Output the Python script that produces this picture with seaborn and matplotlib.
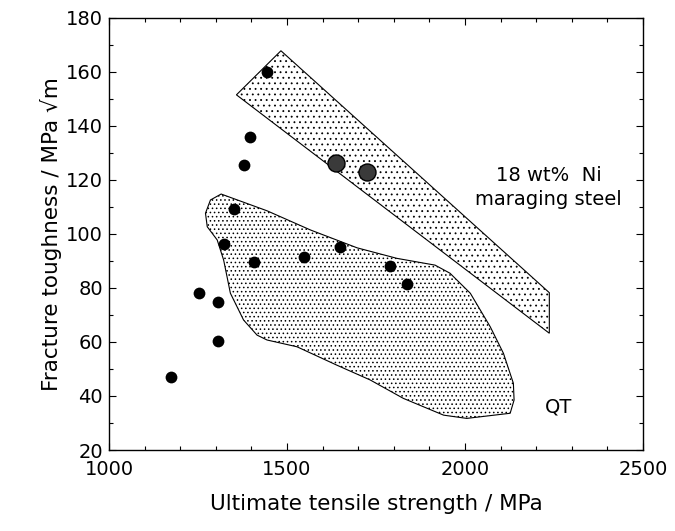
import matplotlib
matplotlib.use("Agg")
import matplotlib.pyplot as plt
import seaborn as sns
import pandas as pd
from matplotlib.patches import Polygon
from matplotlib.ticker import MultipleLocator

# QT steels, measured points
qt_strength = [1444, 1397, 1378, 1350, 1322, 1406, 1547, 1650, 1788, 1837, 1253, 1305, 1305, 1174]
qt_toughness = [160, 135.7, 125.5, 109, 96.3, 89.7, 91.5, 95.1, 88.2, 81.4, 78, 74.6, 60.4, 46.9]

# maraging steel points
mar_strength = [1637, 1725]
mar_toughness = [126.2, 123]

# outline of maraging steel band
band_x = [1358, 1483, 2237, 2237]
band_y = [151.4, 167.7, 78.2, 63.2]

# outline of QT region
qt_x = [1315, 1444, 1566, 1697, 1809, 1916, 1958, 2015, 2071, 2108, 2136, 2138, 2127,
        2005, 1940, 1827, 1734, 1640, 1528, 1444, 1416, 1378, 1341, 1322, 1304, 1276,
        1271, 1285]
qt_y = [114.7, 108.5, 101.4, 94.8, 90.9, 88.4, 85.4, 78.0, 65.6, 55.8, 44.7, 38.5, 33.6,
        31.7, 32.9, 39.1, 45.9, 51.4, 58.2, 60.7, 62.5, 68.1, 78.0, 90.3, 97.7, 102.6,
        107.6, 112.5]

sns.set_style("ticks")
plt.rcParams["font.family"] = ["DejaVu Sans"]
plt.rcParams["hatch.linewidth"] = 0.6
for key in ["text.color", "axes.labelcolor", "xtick.color", "ytick.color"]:
    plt.rcParams[key] = "black"

fig = plt.figure(figsize=(6.75, 5.31), dpi=100)
ax = fig.add_axes([0.1615, 0.1525, 0.791, 0.8145])

# shaded regions
ax.add_patch(Polygon(list(zip(band_x, band_y)), closed=True, facecolor="white",
                     edgecolor="black", hatch="...", linewidth=0.8, zorder=1))
ax.add_patch(Polygon(list(zip(qt_x, qt_y)), closed=True, facecolor="white",
                     edgecolor="black", hatch="....", linewidth=0.8, zorder=1))

df_qt = pd.DataFrame({"uts": qt_strength, "k": qt_toughness})
df_mar = pd.DataFrame({"uts": mar_strength, "k": mar_toughness})
sns.scatterplot(data=df_qt, x="uts", y="k", ax=ax, color="black", s=72,
                edgecolor="black", linewidth=0, zorder=3)
sns.scatterplot(data=df_mar, x="uts", y="k", ax=ax, color="#3a3a3a", s=150,
                edgecolor="black", linewidth=1, zorder=3)

ax.text(2235, 117, "18 wt%  Ni\nmaraging steel", ha="center", va="center",
        fontsize=14, linespacing=1.35)
ax.text(2225, 36, "QT", ha="left", va="center", fontsize=14)

ax.set_xlim(1000, 2500)
ax.set_ylim(20, 180)
ax.xaxis.set_major_locator(MultipleLocator(500))
ax.xaxis.set_minor_locator(MultipleLocator(100))
ax.yaxis.set_major_locator(MultipleLocator(20))
ax.yaxis.set_minor_locator(MultipleLocator(10))
ax.tick_params(which="both", direction="in", top=True, right=True, width=0.8,
               labelsize=14, color="black")
ax.tick_params(which="major", length=5)
ax.tick_params(which="minor", length=3)
ax.tick_params(axis="y", pad=4.3)
ax.tick_params(axis="x", pad=7)
for sp in ax.spines.values():
    sp.set_linewidth(1.0)
    sp.set_color("black")

ax.set_xlabel("Ultimate tensile strength / MPa", fontsize=15.5, labelpad=11)
ax.set_ylabel("Fracture toughness / MPa \u221am", fontsize=15.5, labelpad=3)

fig.savefig("out.png", dpi=100)
